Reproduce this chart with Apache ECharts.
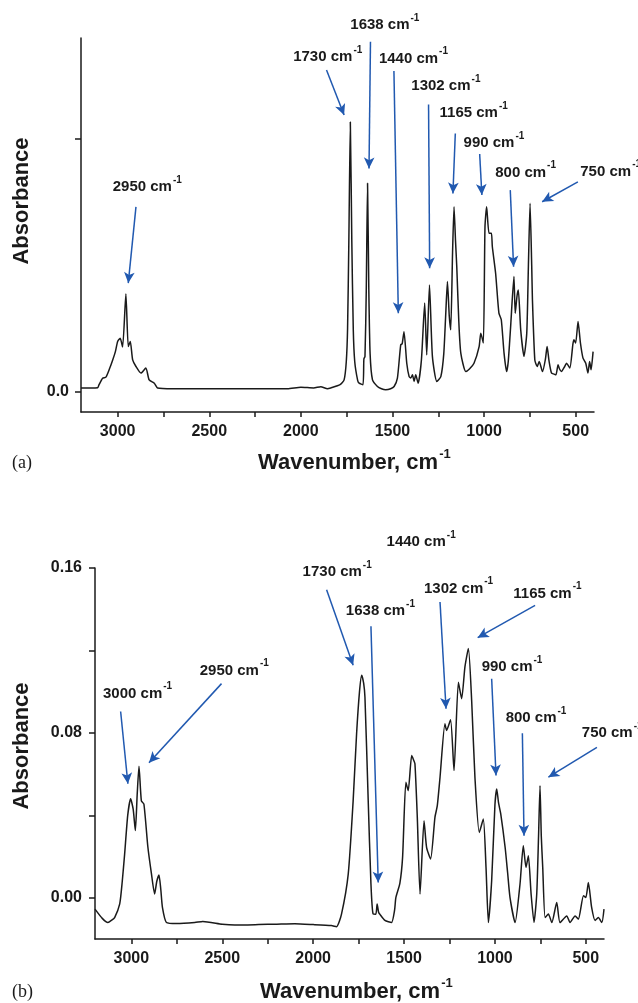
<!DOCTYPE html>
<html>
<head>
<meta charset="utf-8">
<script src="https://cdn.jsdelivr.net/npm/echarts@6/dist/echarts.min.js"></script>
<style>
html, body { margin: 0; padding: 0; background: #fff; }
#main { width: 638px; height: 1003px; }
</style>
</head>
<body>
<div id="main"></div>
<script>
// spectrum (a)
var wnA = [3200, 3150, 3109, 3102, 3082, 3064, 3045, 3027, 3012, 3000, 2986, 2973, 2955, 2942, 2931, 2918, 2900, 2873, 2846, 2828, 2800, 2782, 2700, 2500, 2300, 2073, 2000, 1930, 1891, 1855, 1837, 1786, 1764, 1752, 1745, 1738, 1730, 1722, 1714, 1706, 1690, 1682, 1661, 1656, 1650, 1643, 1636, 1629, 1622, 1609, 1582, 1560, 1537, 1510, 1491, 1473, 1455, 1447, 1437, 1422, 1409, 1400, 1391, 1382, 1373, 1360, 1342, 1324, 1313, 1298, 1282, 1258, 1236, 1220, 1209, 1200, 1190, 1182, 1172, 1164, 1156, 1149, 1138, 1127, 1100, 1080, 1055, 1027, 1018, 1004, 995, 986, 973, 960, 955, 937, 919, 906, 891, 877, 868, 855, 837, 830, 820, 813, 800, 782, 767, 758, 749, 740, 736, 723, 710, 699, 681, 665, 656, 645, 632, 618, 608, 596, 588, 578, 560, 550, 532, 515, 509, 500, 487, 474, 460, 445, 433, 424, 416, 405];
var absA = [0.015, 0.015, 0.016, 0.027, 0.054, 0.058, 0.09, 0.126, 0.16, 0.199, 0.212, 0.177, 0.387, 0.179, 0.199, 0.126, 0.1, 0.074, 0.094, 0.047, 0.034, 0.015, 0.012, 0.012, 0.012, 0.012, 0.018, 0.015, 0.02, 0.012, 0.015, 0.028, 0.047, 0.12, 0.25, 0.6, 1.068, 0.6, 0.25, 0.12, 0.045, 0.034, 0.028, 0.13, 0.14, 0.4, 0.825, 0.4, 0.15, 0.047, 0.021, 0.012, 0.008, 0.012, 0.021, 0.054, 0.186, 0.19, 0.238, 0.113, 0.06, 0.055, 0.067, 0.041, 0.067, 0.034, 0.126, 0.351, 0.146, 0.423, 0.14, 0.041, 0.06, 0.15, 0.311, 0.436, 0.3, 0.245, 0.55, 0.732, 0.6, 0.495, 0.28, 0.153, 0.08, 0.09, 0.113, 0.179, 0.232, 0.193, 0.653, 0.732, 0.627, 0.627, 0.575, 0.469, 0.311, 0.285, 0.153, 0.08, 0.12, 0.258, 0.456, 0.311, 0.38, 0.403, 0.245, 0.14, 0.232, 0.5, 0.746, 0.5, 0.364, 0.126, 0.1, 0.12, 0.08, 0.13, 0.179, 0.12, 0.074, 0.07, 0.067, 0.107, 0.09, 0.08, 0.1, 0.113, 0.094, 0.19, 0.206, 0.193, 0.278, 0.193, 0.133, 0.113, 0.074, 0.12, 0.087, 0.159];

// spectrum (b)
var wnB = [3200, 3160, 3129, 3110, 3092, 3064, 3050, 3037, 3020, 3004, 2990, 2978, 2968, 2958, 2945, 2931, 2909, 2890, 2872, 2860, 2848, 2838, 2829, 2807, 2750, 2651, 2607, 2500, 2431, 2300, 2200, 2101, 2000, 1900, 1871, 1844, 1807, 1780, 1761, 1745, 1733, 1722, 1715, 1697, 1682, 1670, 1655, 1648, 1640, 1633, 1605, 1569, 1552, 1545, 1523, 1508, 1490, 1477, 1458, 1448, 1440, 1427, 1412, 1390, 1376, 1354, 1330, 1317, 1302, 1275, 1266, 1244, 1225, 1201, 1183, 1165, 1146, 1128, 1110, 1086, 1064, 1049, 1036, 1018, 1000, 990, 980, 968, 944, 930, 917, 889, 862, 844, 829, 816, 801, 785, 770, 760, 752, 745, 737, 724, 706, 687, 660, 642, 605, 587, 559, 541, 513, 500, 486, 468, 449, 431, 412, 400];
var absB = [-0.0055, -0.01, -0.012, -0.011, -0.0096, -0.003, 0.008, 0.0212, 0.04, 0.048, 0.043, 0.0326, 0.05, 0.0638, 0.047, 0.0455, 0.0245, 0.012, 0.0018, 0.008, 0.011, 0.004, -0.0047, -0.012, -0.0125, -0.012, -0.0115, -0.0128, -0.0132, -0.013, -0.0128, -0.0126, -0.013, -0.0135, -0.014, -0.0079, 0.0115, 0.047, 0.0796, 0.1, 0.108, 0.104, 0.0973, 0.047, 0.0067, -0.0079, -0.008, -0.003, -0.007, -0.008, -0.011, -0.012, -0.006, 0.0001, 0.007, 0.0196, 0.056, 0.052, 0.069, 0.067, 0.065, 0.039, 0.0018, 0.0374, 0.0245, 0.0188, 0.039, 0.0447, 0.0585, 0.0844, 0.0812, 0.0864, 0.0617, 0.1046, 0.0966, 0.112, 0.1209, 0.0957, 0.0585, 0.0317, 0.0382, 0.0147, -0.012, 0.0083, 0.045, 0.0528, 0.046, 0.0407, 0.0245, 0.012, 0.0001, -0.012, 0.0067, 0.0253, 0.0147, 0.0204, 0.0018, -0.012, 0.0018, 0.03, 0.0544, 0.03, 0.0147, -0.0096, -0.0079, -0.012, -0.0023, -0.012, -0.0088, -0.012, -0.0088, -0.0104, 0.001, 0.0001, 0.0074, -0.0047, -0.011, -0.0096, -0.012, -0.0055];

// peak labels: [wavenumber, absorbance] of the text start, and arrow from -> to
var peakNames = ['2950', '1730', '1638', '1440', '1302', '1165', '990', '800', '750'];
var labelPosA = [[3027, 0.811], [2042, 1.324], [1730, 1.451], [1574, 1.319], [1397, 1.209], [1243, 1.102], [1112, 0.985], [939, 0.867], [475, 0.871]];
var arrowFromA = [[2900, 0.732], [1860, 1.273], [1620, 1.385], [1492, 1.269], [1303, 1.137], [1157, 1.022], [1024, 0.941], [857, 0.798], [488, 0.831]];
var arrowToA = [[2942, 0.43], [1764, 1.095], [1628, 0.884], [1468, 0.311], [1297, 0.489], [1170, 0.785], [1012, 0.779], [839, 0.495], [683, 0.752]];

var peakNamesB = ['3000', '2950', '1730', '1638', '1440', '1302', '1165', '990', '800', '750'];
var labelPosB = [[3156, 0.099], [2624, 0.1103], [2058, 0.158], [1820, 0.139], [1596, 0.1727], [1390, 0.15], [899, 0.1476], [1073, 0.1119], [941, 0.0873], [522, 0.08]];
var arrowFromB = [[3059, 0.0904], [2504, 0.1039], [1926, 0.1495], [1682, 0.1317], [1436, 0.1667], [1302, 0.1435], [779, 0.1419], [1018, 0.1063], [849, 0.0798], [439, 0.073]];
var arrowToB = [[3019, 0.0553], [2903, 0.0655], [1780, 0.1128], [1642, 0.0074], [1445, 0.0779], [1269, 0.0917], [1095, 0.1262], [994, 0.0593], [840, 0.0301], [706, 0.0585]];

var xTicks = [500, 750, 1000, 1250, 1500, 1750, 2000, 2250, 2500, 2750, 3000];
var xLabels = [500, 1000, 1500, 2000, 2500, 3000];

var FONT = '"Liberation Sans", Arial, sans-serif';
var INK = '#1a1a1a';
var BLUE = '#2159b0';

function zip(a, b) {
	var out = [];
	for (var i = 0; i < a.length; i++) {
		out.push([a[i], b[i]]);
	}
	return out;
}

function arrows(from, to) {
	var out = [];
	for (var i = 0; i < from.length; i++) {
		out.push([{ coord: from[i] }, { coord: to[i] }]);
	}
	return out;
}

function labels(pos, names) {
	var out = [];
	for (var i = 0; i < pos.length; i++) {
		out.push([pos[i][0], pos[i][1], names[i]]);
	}
	return out;
}

function xAxisOf(idx) {
	return {
		gridIndex : idx,
		type : 'value',
		min : 400,
		max : 3200,
		inverse : true,
		splitLine : { show : false },
		axisLine : { onZero : false, lineStyle : { color : INK, width : 1.5 } },
		axisTick : { customValues : xTicks, length : 5, lineStyle : { color : INK, width : 1.5 } },
		axisLabel : {
			customValues : xLabels,
			formatter : function(v) { return String(v); },
			margin : 12,
			color : INK,
			fontFamily : FONT,
			fontWeight : 'bold',
			fontSize : 16
		}
	};
}

var peakLabel = {
	show : true,
	position : 'inside',
	align : 'left',
	verticalAlign : 'middle',
	color : INK,
	opacity : 1,
	textBorderWidth : 0,
	formatter : function(p) {
		return '{n|' + p.data[2] + ' cm}{s|-1}';
	},
	rich : {
		n : { fontFamily : FONT, fontWeight : 'bold', fontSize : 15, color : INK, textBorderWidth : 0 },
		s : { fontFamily : FONT, fontWeight : 'bold', fontSize : 10, color : INK, textBorderWidth : 0, padding : [0, 0, 14, 1] }
	}
};

var arrowStyle = {
	silent : true,
	animation : false,
	symbol : ['none', 'arrow'],
	symbolSize : [8, 11],
	label : { show : false },
	lineStyle : { color : BLUE, width : 1.5, type : 'solid' },
	emphasis : { disabled : true }
};

function titleText(x, y, rot) {
	return {
		type : 'text',
		x : x,
		y : y,
		rotation : rot,
		style : {
			text : '{n|' + (rot ? 'Absorbance' : 'Wavenumber, cm') + '}' + (rot ? '' : '{s|-1}'),
			align : rot ? 'center' : 'left',
			verticalAlign : 'middle',
			rich : {
				n : { fontFamily : FONT, fontWeight : 'bold', fontSize : 22, fill : INK },
				s : { fontFamily : FONT, fontWeight : 'bold', fontSize : 13, fill : INK, padding : [0, 0, 18, 1] }
			}
		}
	};
}

var myChart = echarts.init(document.getElementById('main'), null, { renderer : 'canvas' });

var option = {
	animation : false,
	backgroundColor : '#fff',
	grid : [
		{ left : 81, top : 38, width : 513, height : 374 },
		{ left : 95, top : 568, width : 509, height : 371 }
	],
	xAxis : [xAxisOf(0), xAxisOf(1)],
	yAxis : [
		{
			gridIndex : 0,
			type : 'value',
			min : -0.08,
			max : 1.4,
			splitLine : { show : false },
			axisLine : { show : true, lineStyle : { color : INK, width : 1.5 } },
			axisTick : { show : true, customValues : [0, 1], length : 6, lineStyle : { color : INK, width : 1.5 } },
			axisLabel : {
				customValues : [0],
				formatter : function() { return '0.0'; },
				margin : 12,
				color : INK,
				fontFamily : FONT,
				fontWeight : 'bold',
				fontSize : 16
			}
		},
		{
			gridIndex : 1,
			type : 'value',
			min : -0.02,
			max : 0.16,
			splitLine : { show : false },
			axisLine : { show : true, lineStyle : { color : INK, width : 1.5 } },
			axisTick : { show : true, customValues : [0, 0.04, 0.08, 0.12, 0.16], length : 6, lineStyle : { color : INK, width : 1.5 } },
			axisLabel : {
				customValues : [0, 0.08, 0.16],
				formatter : function(v) { return v.toFixed(2); },
				margin : 13,
				color : INK,
				fontFamily : FONT,
				fontWeight : 'bold',
				fontSize : 16
			}
		}
	],
	graphic : [
		titleText(22, 201, Math.PI / 2),
		titleText(22, 746, Math.PI / 2),
		titleText(258, 463, 0),
		titleText(260, 992, 0),
		{ type : 'text', x : 12, y : 463, style : { text : '(a)', font : '18px "Liberation Serif", serif', fill : INK, verticalAlign : 'middle' } },
		{ type : 'text', x : 12, y : 992, style : { text : '(b)', font : '18px "Liberation Serif", serif', fill : INK, verticalAlign : 'middle' } }
	],
	series : [
		{
			name : 'a',
			type : 'line',
			xAxisIndex : 0,
			yAxisIndex : 0,
			data : zip(wnA, absA),
			showSymbol : false,
			smooth : 0.2,
			clip : false,
			lineStyle : { color : INK, width : 1.5 },
			markLine : Object.assign({ data : arrows(arrowFromA, arrowToA) }, arrowStyle)
		},
		{
			name : 'a labels',
			type : 'scatter',
			xAxisIndex : 0,
			yAxisIndex : 0,
			data : labels(labelPosA, peakNames),
			symbolSize : 0,
			itemStyle : { opacity : 1 },
			clip : false,
			silent : true,
			label : peakLabel
		},
		{
			name : 'b',
			type : 'line',
			xAxisIndex : 1,
			yAxisIndex : 1,
			data : zip(wnB, absB),
			showSymbol : false,
			smooth : 0.2,
			clip : false,
			lineStyle : { color : INK, width : 1.5 },
			markLine : Object.assign({ data : arrows(arrowFromB, arrowToB) }, arrowStyle)
		},
		{
			name : 'b labels',
			type : 'scatter',
			xAxisIndex : 1,
			yAxisIndex : 1,
			data : labels(labelPosB, peakNamesB),
			symbolSize : 0,
			itemStyle : { opacity : 1 },
			clip : false,
			silent : true,
			label : peakLabel
		}
	]
};
myChart.setOption(option);
</script>
</body>
</html>
